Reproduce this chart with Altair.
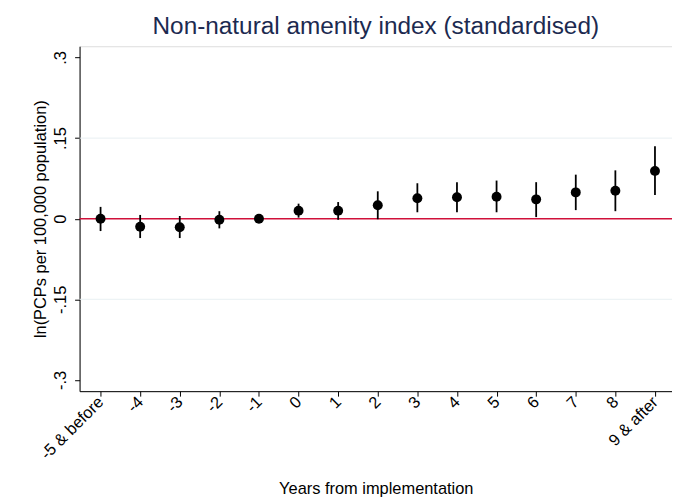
import altair as alt
import pandas as pd

# Data
x_labels = ["-5 & before", "-4", "-3", "-2", "-1", "0", "1", "2", "3", "4", "5", "6", "7", "8", "9 & after"]
estimates = [0.000, -0.015, -0.016, -0.002, 0.000, 0.015, 0.015, 0.025, 0.038, 0.040, 0.041, 0.036, 0.049, 0.052, 0.089]
ci_low = [-0.023, -0.036, -0.036, -0.018, -0.002, 0.002, -0.002, -0.001, 0.012, 0.012, 0.012, 0.003, 0.016, 0.014, 0.044]
ci_high = [0.022, 0.007, 0.005, 0.014, 0.002, 0.028, 0.031, 0.051, 0.066, 0.068, 0.071, 0.068, 0.082, 0.090, 0.135]
y_ticks = [-0.3, -0.15, 0, 0.15, 0.3]
y_tick_labels = ["-.3", "-.15", "0", ".15", ".3"]
grid_values = [-0.15, 0.15]

df = pd.DataFrame({
    "idx": list(range(len(x_labels))),
    "label": x_labels,
    "est": estimates,
    "lo": ci_low,
    "hi": ci_high,
})

x_label_expr = "[" + ",".join("'" + s + "'" for s in x_labels) + "][round(datum.value)]"
y_label_expr = ""
for v, s in zip(y_ticks, y_tick_labels):
    y_label_expr += f"abs(datum.value - ({v})) < 0.01 ? '{s}' : "
y_label_expr += "''"

FONT = "Liberation Sans"
x_scale = alt.Scale(domain=[-0.53, 14.43], nice=False, zero=False)
y_scale = alt.Scale(domain=[-0.321, 0.321], nice=False, zero=False)

x_enc = alt.X("idx:Q", scale=x_scale,
              axis=alt.Axis(values=list(range(len(x_labels))), labelExpr=x_label_expr,
                            labelAngle=-45, labelAlign="right", labelBaseline="middle",
                            labelFontSize=16.5, labelFont=FONT, labelColor="#000000",
                            labelPadding=3, tickSize=5, tickColor="#000000",
                            domainColor="#000000", grid=False, labelOverlap=False,
                            title="Years from implementation", titleFont=FONT,
                            titleFontSize=16.5, titleFontWeight="normal", titleColor="#000000",
                            titlePadding=18))

grid = alt.Chart(pd.DataFrame({"g": grid_values})).mark_rule(color="#e8f0f2", strokeWidth=1).encode(
    y=alt.Y("g:Q", scale=y_scale)
)

zero_line = alt.Chart(pd.DataFrame({"z": [0]})).mark_rule(color="#d0103a", strokeWidth=1.5).encode(
    y=alt.Y("z:Q", scale=y_scale)
)

bars = alt.Chart(df).mark_rule(color="#000000", strokeWidth=1.8).encode(
    x=x_enc,
    y=alt.Y("lo:Q", scale=y_scale,
            axis=alt.Axis(values=y_ticks, labelExpr=y_label_expr, labelAngle=-90,
                          labelAlign="center", labelBaseline="bottom",
                          labelFontSize=16.5, labelFont=FONT, labelColor="#000000",
                          labelPadding=6, tickSize=5, tickColor="#000000",
                          domainColor="#000000", grid=False,
                          title="ln(PCPs per 100,000 population)", titleFont=FONT,
                          titleFontSize=16.5, titleFontWeight="normal", titleColor="#000000",
                          titlePadding=4)),
    y2="hi:Q",
)

points = alt.Chart(df).mark_circle(color="#000000", opacity=1, size=100).encode(
    x=alt.X("idx:Q", scale=x_scale),
    y=alt.Y("est:Q", scale=y_scale),
)

chart = alt.layer(grid, zero_line, bars, points).properties(
    width=596,
    height=347,
    title=alt.TitleParams("Non-natural amenity index (standardised)", font=FONT, fontSize=24.5,
                          fontWeight="normal", color="#1c2a50", anchor="middle", offset=7),
    autosize=alt.AutoSizeParams(type="none"),
    padding={"left": 72, "top": 37, "right": 0, "bottom": 106},
).configure_view(stroke=None).configure(background="#ffffff")

chart.save("out.html", embed_options={"renderer": "svg", "actions": False})
